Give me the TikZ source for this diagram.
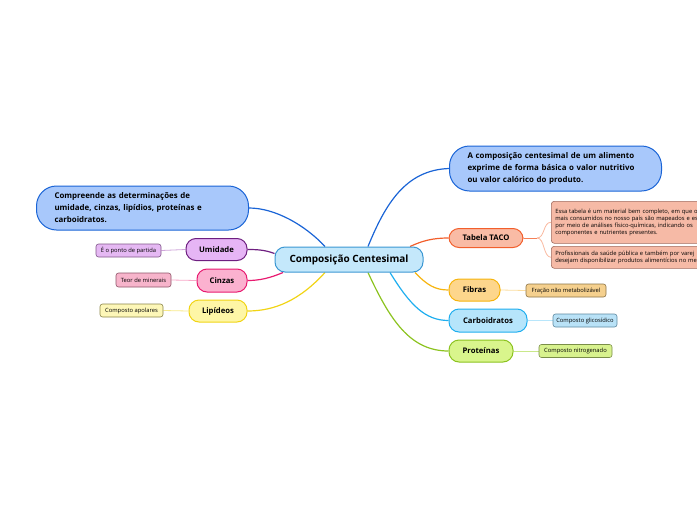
\documentclass[tikz,border=0pt]{standalone}
\usepackage{fontspec}
\setmainfont{Open Sans}
\usetikzlibrary{calc}
\pgfdeclarelayer{bg}
\pgfsetlayers{bg,main}
\definecolor{bluedark}{HTML}{1A64D6}
\definecolor{bluefill}{HTML}{A8C8FB}
\definecolor{cenfill}{HTML}{C4E8FB}
\definecolor{cenline}{HTML}{3B97D3}
\definecolor{orgline}{HTML}{F25F2C}
\definecolor{orgfill}{HTML}{F9BBA5}
\definecolor{orgleaf}{HTML}{F6BAA6}
\definecolor{orgleafb}{HTML}{A06A5C}
\definecolor{orgthin}{HTML}{F9B9A0}
\definecolor{fibline}{HTML}{F6B40E}
\definecolor{fibfill}{HTML}{FDD68C}
\definecolor{fibleaf}{HTML}{F5D08E}
\definecolor{fibleafb}{HTML}{8C7345}
\definecolor{fibthin}{HTML}{FBDDA0}
\definecolor{carline}{HTML}{1FAEEF}
\definecolor{carfill}{HTML}{B6E5FB}
\definecolor{carleaf}{HTML}{B9E2F7}
\definecolor{carleafb}{HTML}{5E88A0}
\definecolor{carthin}{HTML}{B8E6FB}
\definecolor{proline}{HTML}{8CC320}
\definecolor{profill}{HTML}{D9F58C}
\definecolor{proleaf}{HTML}{D8F28E}
\definecolor{proleafb}{HTML}{7A8E48}
\definecolor{prothin}{HTML}{C9E88A}
\definecolor{umiline}{HTML}{6E1F80}
\definecolor{umifill}{HTML}{E6B5F5}
\definecolor{umileaf}{HTML}{E5B8F3}
\definecolor{umileafb}{HTML}{7F5588}
\definecolor{umithin}{HTML}{CFA6DA}
\definecolor{cinline}{HTML}{E81A70}
\definecolor{cinfill}{HTML}{FBB1CF}
\definecolor{cinleaf}{HTML}{F7B4CB}
\definecolor{cinleafb}{HTML}{8E5568}
\definecolor{cinthin}{HTML}{F8A8C8}
\definecolor{lipline}{HTML}{F1D415}
\definecolor{lipfill}{HTML}{FEF6A6}
\definecolor{lipleaf}{HTML}{FDF7B8}
\definecolor{lipleafb}{HTML}{8A8448}
\definecolor{lipthin}{HTML}{F7E98A}
\begin{document}
\begin{tikzpicture}[x=1pt,y=-1pt,
  branch/.style={draw, line width=1pt, rounded corners=10pt, inner sep=0pt,
    font=\bfseries\fontsize{7.7}{9}\selectfont, minimum height=22pt},
  leaf/.style={draw, line width=0.6pt, rounded corners=2.5pt, inner sep=0pt,
    font=\fontsize{5.8}{7}\selectfont, minimum height=13pt},
  bigbox/.style={draw=bluedark, fill=bluefill, line width=1pt, rounded corners=20pt,
    inner xsep=18pt, inner ysep=0pt, minimum height=45pt, text width=176pt, align=left,
    font=\bfseries\fontsize{7.9}{12}\selectfont},
  detail/.style={draw=orgleafb, fill=orgleaf, line width=0.6pt, rounded corners=3pt,
    inner xsep=4pt, inner ysep=0pt, text width=200pt, align=left,
    font=\fontsize{5.8}{7.2}\selectfont},
  conn/.style={line width=1.2pt},
  thin/.style={line width=0.8pt}]
\useasboundingbox (0,0) rectangle (697,520);
\clip (0,0) rectangle (697,520);

% central
\node[draw=cenline, fill=cenfill, line width=1pt, rounded corners=10pt, inner sep=0pt,
  minimum width=148pt, minimum height=25pt, font=\bfseries\fontsize{10}{11}\selectfont]
  (cen) at (349,259.5) {Composição Centesimal};

% big boxes
\node[bigbox, anchor=west] (tr) at (449,168.5) {A composição centesimal de um alimento\\exprime de forma básica o valor nutritivo\\ou valor calórico do produto.};
\node[bigbox, anchor=west, minimum height=44pt] (tl) at (36,208) {Compreende as determinações de\\umidade, cinzas, lipídios, proteínas e\\carboidratos.};

% right branches
\node[branch, draw=orgline, fill=orgfill, minimum width=74pt, minimum height=19pt] (tab) at (486,238) {Tabela TACO};
\node[branch, draw=fibline, fill=fibfill, minimum width=51pt] (fib) at (474.5,290) {Fibras};
\node[branch, draw=carline, fill=carfill, minimum width=78pt, minimum height=23pt] (car) at (488,320.5) {Carboidratos};
\node[branch, draw=proline, fill=profill, minimum width=64pt] (pro) at (481,351) {Proteínas};

% left branches
\node[branch, draw=umiline, fill=umifill, minimum width=61pt] (umi) at (216.5,249.5) {Umidade};
\node[branch, draw=cinline, fill=cinfill, minimum width=50pt, minimum height=23pt] (cin) at (222,280.5) {Cinzas};
\node[branch, draw=lipline, fill=lipfill, minimum width=58pt] (lip) at (218,311) {Lipídeos};

% leaves
\node[detail, anchor=north west, minimum height=42pt] (d1) at (551,201) {Essa tabela é um material bem completo, em que o\\mais consumidos no nosso país são mapeados e es\\por meio de análises físico-químicas, indicando os\\componentes e nutrientes presentes.};
\node[detail, anchor=north west, minimum height=22pt] (d2) at (551,246) {Profissionais da saúde pública e também por varej\\desejam disponibilizar produtos alimentícios no me};
\node[leaf, draw=fibleafb, fill=fibleaf, minimum width=80pt] (fibl) at (566,290.5) {Fração não metabolizável};
\node[leaf, draw=carleafb, fill=carleaf, minimum width=64pt] (carl) at (585,320.5) {Composto glicosídico};
\node[leaf, draw=proleafb, fill=proleaf, minimum width=73pt] (prol) at (575.5,351) {Composto nitrogenado};
\node[leaf, draw=umileafb, fill=umileaf, minimum width=65pt] (umil) at (128.5,250.5) {É o ponto de partida};
\node[leaf, draw=cinleafb, fill=cinleaf, minimum width=55pt, minimum height=14pt] (cinl) at (143.5,280) {Teor de minerais};
\node[leaf, draw=lipleafb, fill=lipleaf, minimum width=63pt] (lipl) at (131.5,310.5) {Composto apolares};

\begin{pgfonlayer}{bg}
% main connectors
\draw[conn, bluedark] ([xshift=19pt]cen.north) .. controls (385,205) and (405,170) .. (tr.west);
\draw[conn, bluedark] ([xshift=-24pt]cen.north) .. controls (305,225) and (275,208) .. (tl.east);
\draw[conn, orgline] ([xshift=61pt]cen.north) .. controls (422,241) and (432,238) .. (tab.west);
\draw[conn, fibline] ([xshift=66pt]cen.south) .. controls (427,285) and (435,290) .. (fib.west);
\draw[conn, carline] ([xshift=41pt]cen.south) .. controls (410,305) and (425,320.5) .. (car.west);
\draw[conn, proline] ([xshift=19pt]cen.south) .. controls (390,320) and (410,351) .. (pro.west);
\draw[conn, umiline] ([yshift=6pt]cen.west) .. controls (265,250) and (258,249.5) .. (umi.east);
\draw[conn, cinline] ([xshift=-66pt]cen.south) .. controls (270,278) and (260,280.5) .. (cin.east);
\draw[conn, lipline] ([xshift=-24pt]cen.south) .. controls (300,300) and (275,311) .. (lip.east);
% leaf connectors
\coordinate (brace) at (537,238);
\draw[thin, orgline!80] (tab.east) -- (brace);
\draw[thin, orgthin] (brace) .. controls (545,238) and (543,222) .. (d1.west);
\draw[thin, orgthin] (brace) .. controls (545,238) and (543,257) .. (d2.west);
\draw[thin, fibthin] (fib.east) -- (fibl.west);
\draw[thin, carthin] (car.east) -- (carl.west);
\draw[thin, prothin] (pro.east) -- (prol.west);
\draw[thin, umithin] (umi.west) -- (umil.east);
\draw[thin, cinthin] (cin.west) -- (cinl.east);
\draw[thin, lipthin] (lip.west) -- (lipl.east);
\end{pgfonlayer}
\end{tikzpicture}
\end{document}
